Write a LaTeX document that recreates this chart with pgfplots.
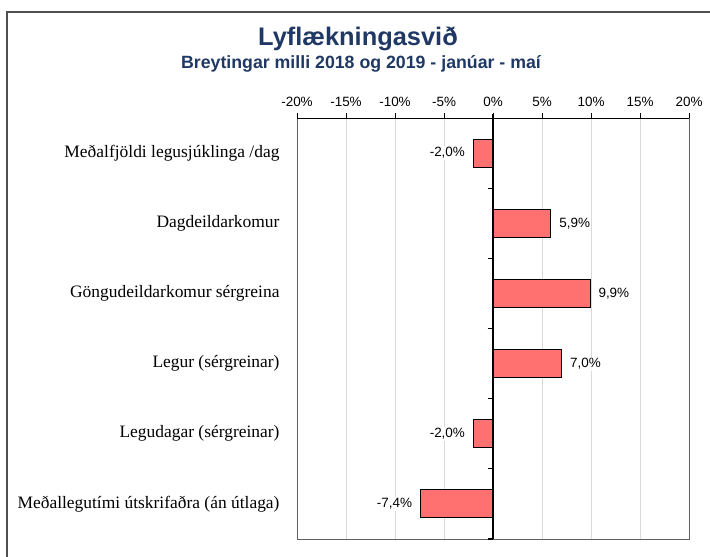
\documentclass[border=0pt]{standalone}
\usepackage{pgfplots}
\pgfplotsset{compat=1.18}
\usepackage{fontspec}
\setmainfont{Liberation Sans}
\newfontfamily\serif{Liberation Serif}
\definecolor{titleblue}{RGB}{31,56,100}
\definecolor{barred}{RGB}{255,112,112}
\definecolor{gridgray}{RGB}{217,217,217}
\definecolor{framegray}{RGB}{80,80,80}
\begin{document}
\begin{tikzpicture}[x=1bp,y=1bp]
\draw[framegray, line width=1.6bp] (7,545) rectangle (718,-8);
\node[font=\bfseries\fontsize{25.5}{30}\selectfont, text=titleblue, anchor=base] at (358,511) {Lyflækningasvið};
\node[font=\bfseries\fontsize{17.8}{21}\selectfont, text=titleblue, anchor=base] at (361,488) {Breytingar milli 2018 og 2019 - janúar - maí};
\begin{axis}[
  at={(297bp,18bp)}, anchor=south west,
  width=392bp, height=421bp, scale only axis,
  xmin=-20, xmax=20, ymin=0.5, ymax=6.5, y dir=reverse,
  xtick={-20,-15,...,20},
  xticklabel={\pgfmathprintnumber{\tick}\%},
  xtick pos=upper, xticklabel pos=upper,
  tick align=outside, major tick length=5bp,
  /pgf/number format/assume math mode=true,
  xmajorgrids, grid style={gridgray, line width=0.8bp},
  ytick={1,...,6},
  yticklabels={Meðalfjöldi legusjúklinga /dag, Dagdeildarkomur, Göngudeildarkomur sérgreina, Legur (sérgreinar), Legudagar (sérgreinar), Meðallegutími útskrifaðra (án útlaga)},
  ytick style={draw=none},
  xtick style={black, line width=0.8bp},
  xticklabel style={font=\fontsize{13.5}{16}\selectfont, yshift=3bp},
  yticklabel style={font=\serif\fontsize{17.5}{21}\selectfont, xshift=-9bp},
  axis line style={gray!75!black, line width=0.8bp},
  xbar, bar width=28bp,
  nodes near coords={\pgfmathprintnumber[fixed, fixed zerofill, precision=1, use comma, assume math mode=true]{\pgfplotspointmeta}\%},
  nodes near coords style={font=\fontsize{13.5}{16}\selectfont, fill=white, inner sep=1.5bp, outer xsep=7bp},
  clip=false,
]
\addplot[fill=barred, draw=black, line width=0.9bp] coordinates {
  (-2.0,1) (5.9,2) (9.9,3) (7.0,4) (-2.0,5) (-7.4,6)
};
\draw[black, line width=0.9bp] (axis cs:-20,0.5) -- (axis cs:20,0.5);
\draw[black, line width=1.6bp] (axis cs:0,0.44) -- (axis cs:0,6.5);
\pgfplotsinvokeforeach{1.5,2.5,3.5,4.5,5.5,6.5}{
  \draw[black, line width=1.2bp] (axis cs:-0.55,#1) -- (axis cs:0,#1);
}
\end{axis}
\pgfresetboundingbox
\useasboundingbox (0,0) rectangle (710,557);
\end{tikzpicture}
\end{document}
